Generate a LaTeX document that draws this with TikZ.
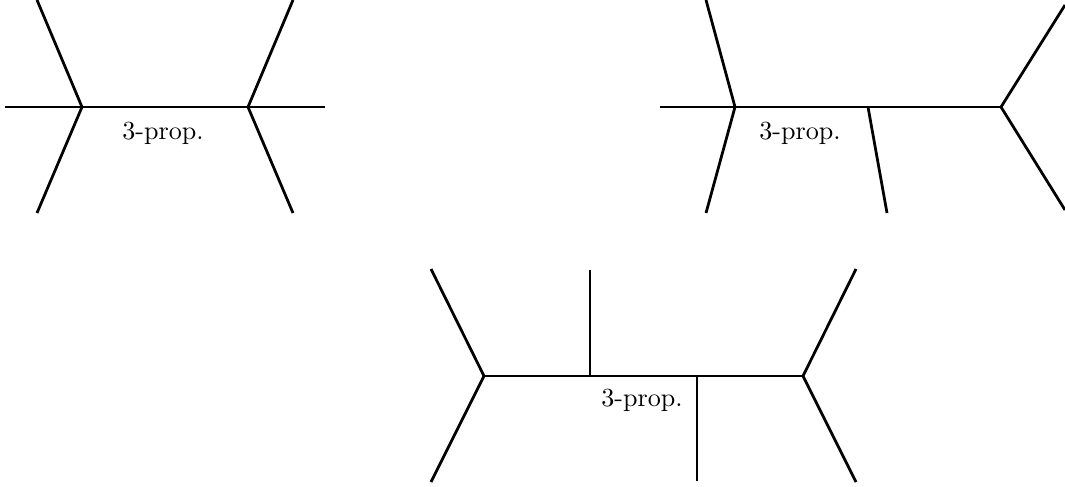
\documentclass[tikz,border=0pt]{standalone}
\begin{document}
\begin{tikzpicture}[x=0.014cm, y=-0.014cm,
  edge/.style={line width=1.1pt},
  lbl/.style={inner sep=0pt, scale=1.04}
]
\useasboundingbox (0,0) rectangle (1065,486);
% left graph
\coordinate (a1) at (82,107);
\coordinate (a2) at (248,107);
\coordinate (al) at (5,107);
\coordinate (au) at (37,0);
\coordinate (ad) at (37,213);
\coordinate (ar) at (325,107);
\coordinate (bu) at (293,0);
\coordinate (bd) at (293,213);
\node[lbl] (alab) at (163,133) {3-prop.};
\draw[edge] (al) -- (a1) -- (a2) -- (ar);
\draw[edge] (au) -- (a1) -- (ad);
\draw[edge] (bu) -- (a2) -- (bd);
% right graph
\coordinate (c1) at (735,107);
\coordinate (c2) at (868,107);
\coordinate (c3) at (1001,107);
\coordinate (cl) at (660,107);
\coordinate (cu) at (706,0);
\coordinate (cd) at (706,213);
\coordinate (dd) at (887,213);
\coordinate (eu) at (1065,5);
\coordinate (ed) at (1065,210);
\node[lbl] (clab) at (800,133) {3-prop.};
\draw[edge] (cl) -- (c1) -- (c2) -- (c3);
\draw[edge] (cu) -- (c1) -- (cd);
\draw[edge] (c2) -- (dd);
\draw[edge] (eu) -- (c3) -- (ed);
% bottom graph
\coordinate (f1) at (484,376);
\coordinate (f2) at (590,376);
\coordinate (f3) at (697,376);
\coordinate (f4) at (803,376);
\coordinate (fu) at (431,269);
\coordinate (fd) at (431,482);
\coordinate (gu) at (590,270);
\coordinate (hd) at (697,481);
\coordinate (ku) at (856,269);
\coordinate (kd) at (856,482);
\node[lbl] (flab) at (642,400) {3-prop.};
\draw[edge] (f1) -- (f2) -- (f3) -- (f4);
\draw[edge] (fu) -- (f1) -- (fd);
\draw[edge] (f2) -- (gu);
\draw[edge] (f3) -- (hd);
\draw[edge] (ku) -- (f4) -- (kd);
\end{tikzpicture}
\end{document}
